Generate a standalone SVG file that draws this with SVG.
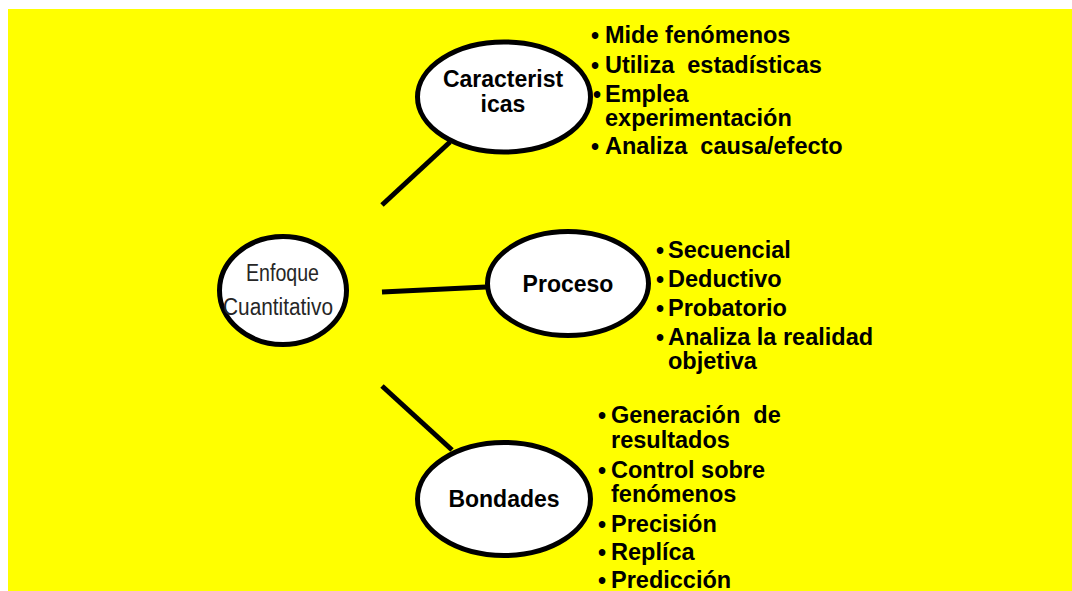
<svg xmlns="http://www.w3.org/2000/svg" width="1072" height="591" viewBox="0 0 1072 591">
<style>
.node{fill:#fff;stroke:#000;stroke-width:5}
.lbl{font-family:"Liberation Sans",Arial,sans-serif;font-weight:bold;font-size:23px;fill:#000;text-anchor:middle}
.root{font-family:"Liberation Sans",Arial,sans-serif;font-size:23px;fill:#262626;text-anchor:middle}
.it{font-family:"Liberation Sans",Arial,sans-serif;font-weight:bold;font-size:23.5px;fill:#000}
.bl{font-family:"Liberation Sans",Arial,sans-serif;font-weight:bold;font-size:23px;fill:#000;text-anchor:middle}
.conn{stroke:#000;stroke-width:5;fill:none}
</style>
<rect x="8" y="9" width="1064" height="582" fill="#ffff00"/>
<g id="connectors">
<line class="conn" x1="382" y1="205" x2="450" y2="142"/>
<line class="conn" x1="382" y1="292" x2="486" y2="287"/>
<line class="conn" x1="382" y1="386" x2="452" y2="450"/>
</g>
<g id="enfoque">
<ellipse class="node" cx="283" cy="290.5" rx="63.5" ry="54"/>
<text class="root" x="282.5" y="281" textLength="73" lengthAdjust="spacingAndGlyphs">Enfoque</text>
<text class="root" x="278" y="315" textLength="110" lengthAdjust="spacingAndGlyphs">Cuantitativo</text>
</g>
<g id="caracteristicas">
<ellipse class="node" cx="504" cy="97" rx="86.5" ry="55"/>
<text class="lbl" x="503" y="87">Caracterist</text>
<text class="lbl" x="503" y="112">icas</text>
</g>
<g id="proceso">
<ellipse class="node" cx="568" cy="283.5" rx="80.5" ry="52"/>
<text class="lbl" x="568" y="292">Proceso</text>
</g>
<g id="bondades">
<ellipse class="node" cx="504" cy="499" rx="86.5" ry="56.5"/>
<text class="lbl" x="504" y="507">Bondades</text>
</g>
<g id="caracteristicas-items">
<text class="bl" x="595" y="44">•</text><text class="it" x="605" y="43">Mide fenómenos</text>
<text class="bl" x="595" y="74">•</text><text class="it" x="605" y="73" xml:space="preserve">Utiliza  estadísticas</text>
<text class="bl" x="597" y="103">•</text><text class="it" x="605" y="102">Emplea</text>
<text class="it" x="605" y="126">experimentación</text>
<text class="bl" x="595" y="155">•</text><text class="it" x="605" y="154" xml:space="preserve">Analiza  causa/efecto</text>
</g>
<g id="proceso-items">
<text class="bl" x="660" y="259">•</text><text class="it" x="668" y="258">Secuencial</text>
<text class="bl" x="660" y="288">•</text><text class="it" x="668" y="287">Deductivo</text>
<text class="bl" x="660" y="317">•</text><text class="it" x="668" y="316">Probatorio</text>
<text class="bl" x="660" y="346">•</text><text class="it" x="668" y="345">Analiza la realidad</text>
<text class="it" x="668" y="369">objetiva</text>
</g>
<g id="bondades-items">
<text class="bl" x="602" y="424">•</text><text class="it" x="611" y="423" xml:space="preserve">Generación  de</text>
<text class="it" x="611" y="448">resultados</text>
<text class="bl" x="602" y="479">•</text><text class="it" x="611" y="478">Control sobre</text>
<text class="it" x="611" y="502">fenómenos</text>
<text class="bl" x="602" y="533">•</text><text class="it" x="611" y="532">Precisión</text>
<text class="bl" x="602" y="561">•</text><text class="it" x="611" y="560">Replíca</text>
<text class="bl" x="602" y="589">•</text><text class="it" x="611" y="588">Predicción</text>
</g>
</svg>
